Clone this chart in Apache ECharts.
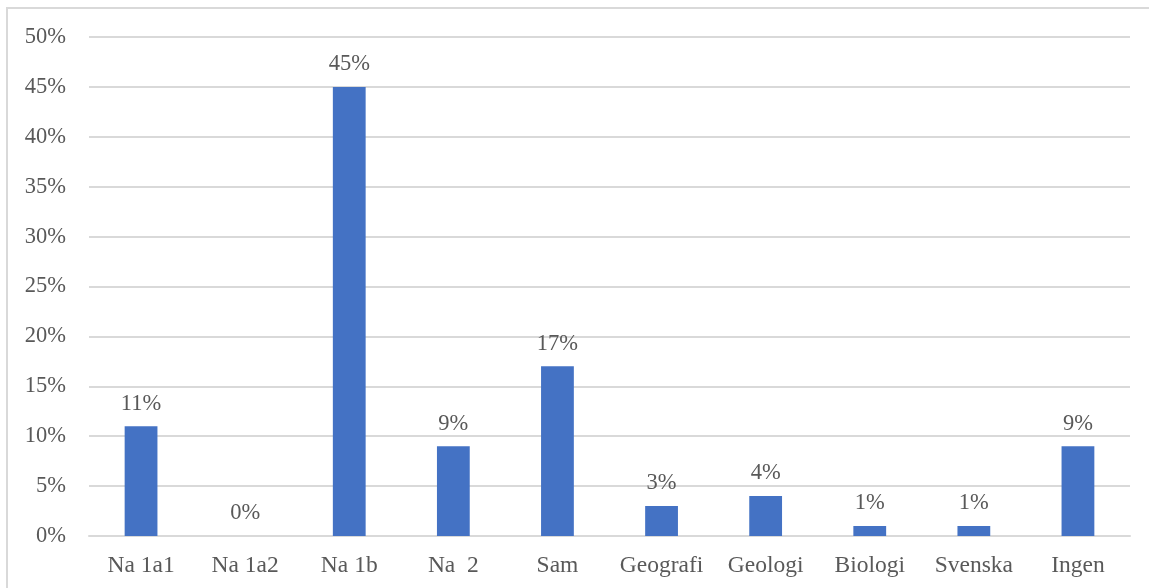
<!DOCTYPE html>
<html>
<head>
<meta charset="utf-8">
<script src="https://cdn.jsdelivr.net/npm/echarts@6/dist/echarts.min.js"></script>
<style>
  html, body { margin: 0; padding: 0; background: #fff; }
  #chart { width: 1149px; height: 588px; }
</style>
</head>
<body>
<div id="chart"></div>
<script>
// Course categories and share of respondents (percent)
const categories = ['Na 1a1', 'Na 1a2', 'Na 1b', 'Na  2', 'Sam', 'Geografi', 'Geologi', 'Biologi', 'Svenska', 'Ingen'];
const shares = [11, 0, 45, 9, 17, 3, 4, 1, 1, 9];
const yTicks = { min: 0, max: 50, interval: 5 };

const textColor = '#595959';
const fontFamily = '"Liberation Serif", "Times New Roman", serif';

const chart = echarts.init(document.getElementById('chart'));
chart.setOption({
  animation: false,
  backgroundColor: '#fff',
  graphic: [{
    type: 'rect',
    shape: { x: 7, y: 8, width: 1200, height: 700 },
    style: { fill: 'none', stroke: '#d9d9d9', lineWidth: 2 },
    silent: true
  }],
  grid: { left: 89, right: 19, top: 37, bottom: 52 },
  xAxis: {
    type: 'category',
    data: categories,
    axisTick: { show: false },
    axisLine: { show: true, lineStyle: { color: '#d9d9d9', width: 2 } },
    axisLabel: { color: textColor, fontFamily, fontSize: 23.5, margin: 18, interval: 0, hideOverlap: false }
  },
  yAxis: {
    type: 'value',
    min: yTicks.min,
    max: yTicks.max,
    interval: yTicks.interval,
    axisLine: { show: false },
    axisTick: { show: false },
    splitLine: { lineStyle: { color: '#d9d9d9', width: 2 } },
    axisLabel: {
      color: textColor, fontFamily, fontSize: 22.5, margin: 23,
      padding: [4, 0, 0, 0],
      formatter: v => v + '%'
    }
  },
  series: [{
    type: 'bar',
    data: shares,
    barWidth: '31.5%',
    itemStyle: { color: '#4472c4' },
    label: {
      show: true,
      position: 'top',
      distance: 11,
      color: textColor,
      fontFamily,
      fontSize: 22.5,
      formatter: p => p.value + '%'
    }
  }]
});
</script>
</body>
</html>
